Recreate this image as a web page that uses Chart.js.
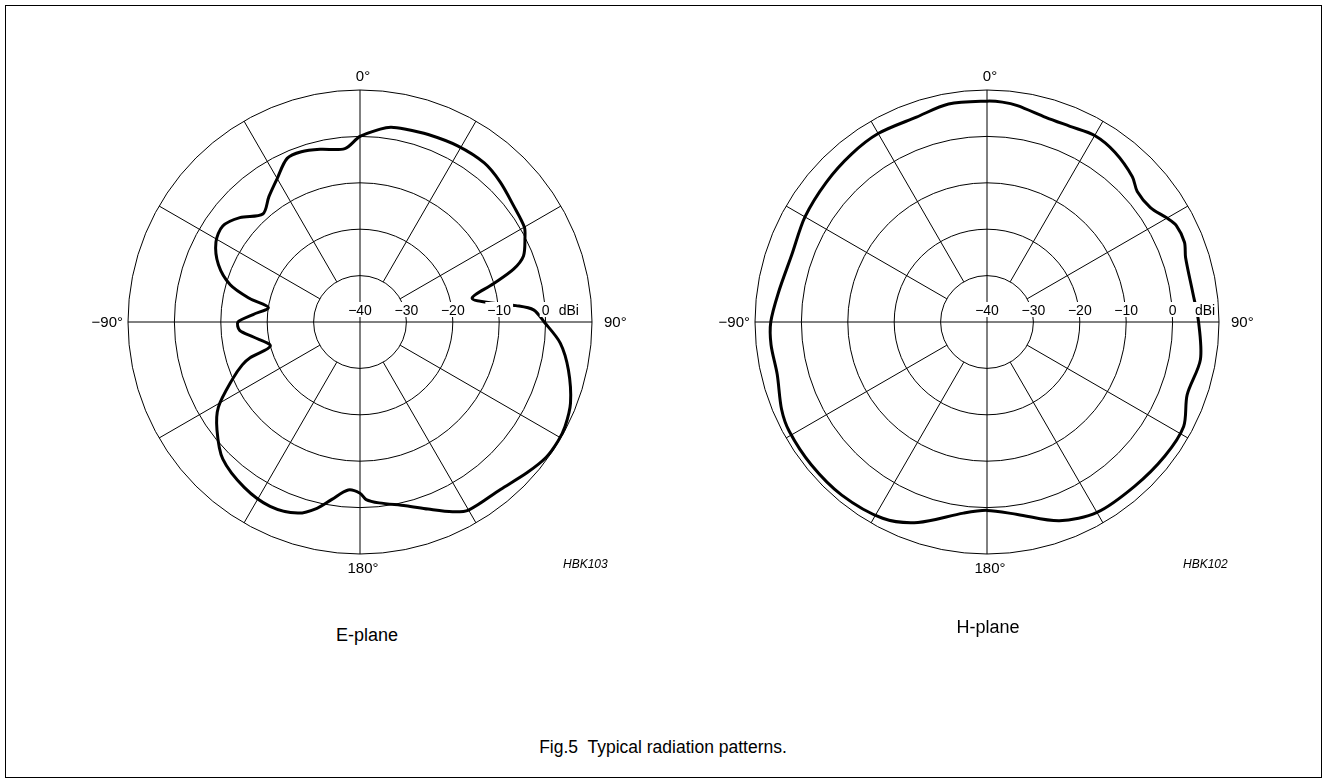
<!DOCTYPE html>
<html>
<head>
<meta charset="utf-8">
<title>Fig.5 Typical radiation patterns</title>
<script src="https://cdn.jsdelivr.net/npm/chart.js@4.4.1/dist/chart.umd.min.js"></script>
<style>
  html, body { margin: 0; padding: 0; background: #fff; }
  body {
    width: 1326px; height: 780px; position: relative; overflow: hidden;
    font-family: 'Liberation Sans', Arial, Helvetica, sans-serif; color: #000;
  }
  .frame { position: absolute; left: 5px; top: 5px; width: 1315px; height: 771px; border: 1px solid #000; }
  canvas { position: absolute; top: 22px; }
  #ePlane { left: 60px; }
  #hPlane { left: 687px; }
  .txt { position: absolute; width: 300px; text-align: center; white-space: pre; line-height: 20px; }
  .code { position: absolute; font-size: 12px; font-style: italic; line-height: 14px; }
</style>
</head>
<body>
<div class="frame"></div>
<canvas id="ePlane" width="600" height="600"></canvas>
<canvas id="hPlane" width="600" height="600"></canvas>
<div class="code" style="left:563px; top:557px;">HBK103</div>
<div class="code" style="left:1183px; top:557px;">HBK102</div>
<div class="txt" style="left:217px; top:625px; font-size:18px;">E-plane</div>
<div class="txt" style="left:838px; top:617px; font-size:18px;">H-plane</div>
<div class="txt" style="left:513px; top:737px; font-size:17.5px;">Fig.5  Typical radiation patterns.</div>
<script>
// angles in degrees, clockwise from 0° at the top; gain in dBi
const eAngles = [0, 6, 9, 13, 20, 29, 38, 45, 53, 60, 63, 68, 71, 74, 78, 82, 84, 86, 90, 96,
  103, 111, 117, 121, 126, 132, 140, 150, 154, 160, 166, 174, 178, 180, 184, 189, 193, 198, 206, 215,
  225, 233, 239, 246, 250, 252, 255, 262, 266, 270, 274, 279, 282, 286, 292, 299, 305, 311, 318, 324,
  330, 336, 341, 347, 355];
const eGain = [0.0, 1.8, 2.5, 2.7, 3.0, 3.4, 3.5, 2.7, 1.5, 0.9, -0.1, -2.0, -5.0, -10.1, -15.3, -10.9, -6.2, -2.5, -0.3, 3.4,
  6.1, 8.6, 9.6, 9.8, 9.6, 8.5, 7.1, 6.8, 5.5, 2.9, 0.8, -0.8, -1.7, -3.1, -3.7, -1.3, 1.2, 3.3, 4.2, 3.5,
  1.8, -1.4, -4.4, -10.0, -13.0, -15.1, -20.0, -16.8, -14.0, -13.7, -16.9, -20.0, -15.7, -10.9, -7.1, -4.5, -3.9, -5.7, -8.7, -6.6,
  -4.3, -1.4, -1.2, -1.8, -2.5];

const hAngles = [0, 4, 8, 16, 23, 30, 37, 45, 49, 55, 60, 63, 68, 72, 82, 90, 100, 110, 118, 127,
  138, 150, 160, 171, 180, 187, 199, 208, 220, 231, 241, 247, 256, 264, 270, 278, 289, 300, 311, 321,
  330, 341, 350];
const hGain = [7.6, 7.5, 7.1, 5.9, 5.8, 6.4, 5.8, 4.3, 2.9, 3.0, 4.8, 5.8, 5.9, 5.0, 4.8, 5.6, 6.7, 5.9, 8.0, 8.0,
  7.6, 7.4, 5.6, 2.0, 0.6, 1.5, 5.7, 7.9, 8.7, 8.8, 8.7, 8.1, 6.6, 6.8, 6.6, 5.4, 4.5, 5.3, 5.9, 6.5,
  6.9, 6.7, 7.7];

const tickValues = [-40, -30, -20, -10, 0];
const degreeAngles = [0, 90, 180, 270];
const degreeTexts = ['0°', '90°', '180°', '\u221290°'];
const spokeAngles = [0, 30, 60, 90, 120, 150, 180, 210, 240, 270, 300, 330];

const FONT = "'Liberation Sans', Arial, Helvetica, sans-serif";
const angleLabels = Array.from({ length: 360 }, (_, i) => i);

function toDegreeSlots(angles, gains) {
  const slots = new Array(360).fill(null);
  angles.forEach((a, i) => { slots[a] = gains[i]; });
  return slots;
}

const fmt = v => (v < 0 ? '\u2212' + Math.abs(v) : String(v));

const polarDecor = {
  id: 'polarDecor',
  beforeDatasetsDraw(chart) {
    const r = chart.scales.r;
    const ctx = chart.ctx;
    ctx.save();
    ctx.strokeStyle = '#000';
    ctx.lineWidth = 1;
    spokeAngles.forEach(a => {
      // the main axes run through the centre, the others start at the -30 ring
      const from = a % 90 === 0 ? 0 : r.getDistanceFromCenterForValue(-30);
      const p0 = r.getPointPosition(a, from);
      const p1 = r.getPointPosition(a, r.drawingArea);
      ctx.beginPath();
      ctx.moveTo(p0.x, p0.y);
      ctx.lineTo(p1.x, p1.y);
      ctx.stroke();
    });
    ctx.restore();
  },
  afterDatasetsDraw(chart, args, opts) {
    const r = chart.scales.r;
    const ctx = chart.ctx;
    ctx.save();

    // dB scale along the 90° axis
    ctx.font = '14px ' + FONT;
    ctx.textBaseline = 'alphabetic';
    ctx.textAlign = 'center';
    const base = r.yCenter - 7;
    const labels = tickValues.map(v => [v, fmt(v)]).concat([[opts.unitAt, 'dBi']]);
    labels.forEach(([v, text]) => {
      const x = r.xCenter + r.getDistanceFromCenterForValue(v);
      const w = ctx.measureText(text).width;
      ctx.fillStyle = '#fff';
      ctx.fillRect(x - w / 2 - 2, base - 13, w + 4, 15);
      ctx.fillStyle = '#000';
      ctx.fillText(text, x, base);
    });

    // angle labels outside the outer ring
    ctx.font = '15px ' + FONT;
    ctx.textBaseline = 'middle';
    degreeAngles.forEach((a, i) => {
      const text = degreeTexts[i];
      if (a === 90) {
        const p = r.getPointPosition(a, r.drawingArea + 12);
        ctx.textAlign = 'left';
        ctx.fillText(text, p.x, p.y + 1);
      } else if (a === 270) {
        const p = r.getPointPosition(a, r.drawingArea + 5);
        ctx.textAlign = 'right';
        ctx.fillText(text, p.x, p.y + 1);
      } else {
        const p = r.getPointPosition(a, r.drawingArea + (a === 0 ? 13 : 15));
        const numW = ctx.measureText(text.replace('°', '')).width;
        ctx.textAlign = 'left';
        ctx.fillText(text, p.x - numW / 2, p.y);
      }
    });
    ctx.restore();
  }
};

function makePattern(id, angles, gains, unitAt) {
  return new Chart(document.getElementById(id), {
    type: 'radar',
    data: {
      labels: angleLabels,
      datasets: [{
        data: toDegreeSlots(angles, gains),
        borderColor: '#000',
        borderWidth: 3,
        fill: false,
        pointRadius: 0,
        pointHoverRadius: 0,
        tension: 0.3,
        spanGaps: true
      }]
    },
    options: {
      responsive: false,
      animation: false,
      layout: { padding: 68 },
      plugins: {
        legend: { display: false },
        tooltip: { enabled: false },
        polarDecor: { unitAt }
      },
      scales: {
        r: {
          min: -40,
          max: 10,
          ticks: { stepSize: 10, display: false },
          grid: { circular: true, color: '#000', lineWidth: 1 },
          angleLines: { display: false },
          pointLabels: { display: false }
        }
      }
    },
    plugins: [polarDecor]
  });
}

makePattern('ePlane', eAngles, eGain, 5);
makePattern('hPlane', hAngles, hGain, 7);
</script>
</body>
</html>
